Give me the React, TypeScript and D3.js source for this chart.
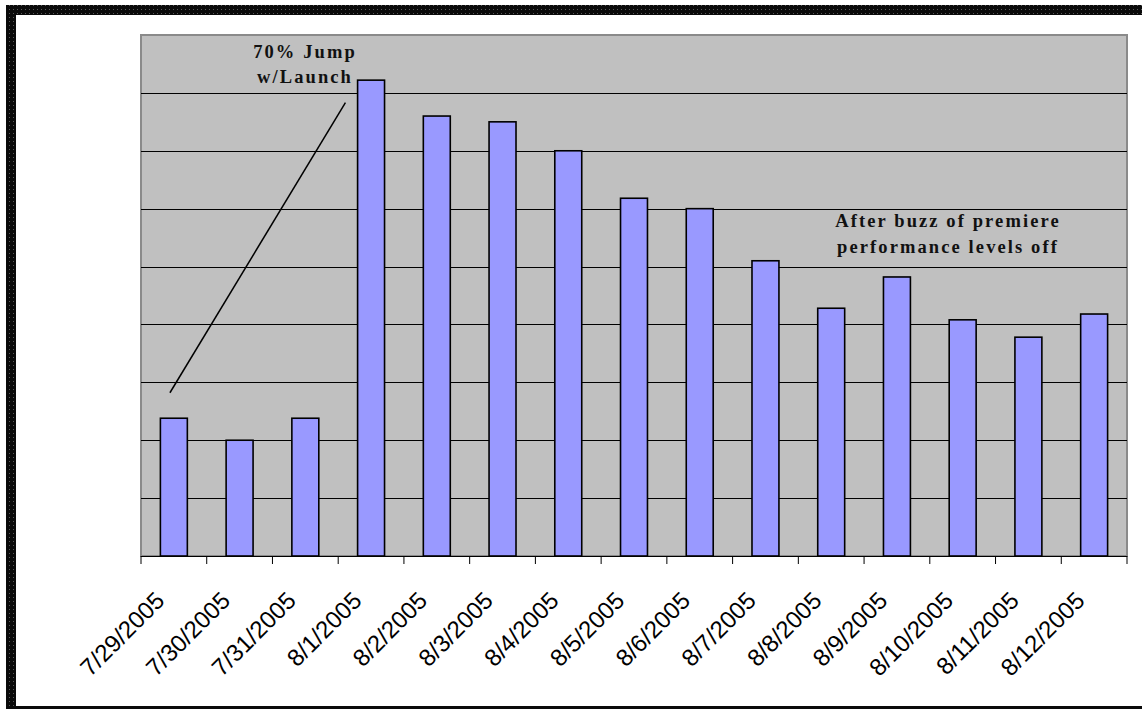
import React from "react";
import * as d3 from "d3";

const categories = [
  "7/29/2005", "7/30/2005", "7/31/2005", "8/1/2005", "8/2/2005", "8/3/2005",
  "8/4/2005", "8/5/2005", "8/6/2005", "8/7/2005", "8/8/2005", "8/9/2005",
  "8/10/2005", "8/11/2005", "8/12/2005",
];
const values = [2.38, 2.0, 2.38, 8.22, 7.6, 7.5, 7.0, 6.18, 6.0, 5.1, 4.28, 4.82, 4.08, 3.78, 4.18];
const yTicks = [0, 1, 2, 3, 4, 5, 6, 7, 8, 9];
const annotation1 = ["70% Jump", "w/Launch"];
const annotation2 = ["After buzz of premiere", "performance levels off"];

const W = 1142;
const H = 709;
const plot = { left: 141, right: 1127, top: 35, bottom: 556 };

export default function App() {
  const x = d3.scaleBand<string>().domain(categories).range([plot.left, plot.right]).padding(0);
  const y = d3.scaleLinear().domain([0, 9]).range([plot.bottom, plot.top]);
  const step = x.step();
  const barW = step * 0.41;
  const boundaries = d3.range(categories.length + 1).map((i) => plot.left + i * step);

  // annotation line endpoints in data terms
  const lineStart = { cat: 0, frac: -0.06, v: 2.82 };
  const lineEnd = { cat: 2, frac: 0.61, v: 7.83 };
  const lx1 = (x(categories[lineStart.cat]) as number) + step / 2 + lineStart.frac * step;
  const lx2 = (x(categories[lineEnd.cat]) as number) + step / 2 + lineEnd.frac * step;

  const serif = "'Liberation Serif', 'Times New Roman', serif";
  const sans = "'Liberation Sans', Arial, sans-serif";

  return (
    <svg
      width={W}
      height={H}
      style={{ position: "absolute", left: 0, top: 0, background: "#fff" }}
    >
      <defs>
        <pattern id="dots" width="4" height="4" patternUnits="userSpaceOnUse">
          <rect width="4" height="4" fill="#0a0a0a" />
          <rect x="1" y="1" width="1" height="1" fill="#5a5a5a" />
        </pattern>
      </defs>
      {/* outer border */}
      <rect x={6} y={5} width={W - 6} height={10} fill="url(#dots)" />
      <rect x={6} y={5} width={10} height={H - 5} fill="url(#dots)" />
      <rect x={6} y={706} width={W - 6} height={3} fill="url(#dots)" />

      {/* plot area */}
      <rect
        x={plot.left}
        y={plot.top}
        width={plot.right - plot.left}
        height={plot.bottom - plot.top}
        fill="#C0C0C0"
        stroke="#8a8a8a"
        strokeWidth={2}
      />
      {yTicks.slice(1, -1).map((t) => (
        <line
          key={t}
          x1={plot.left}
          x2={plot.right}
          y1={Math.round(y(t)) + 0.5}
          y2={Math.round(y(t)) + 0.5}
          stroke="#000"
          strokeWidth={1}
        />
      ))}

      {/* bars */}
      {categories.map((c, i) => {
        const cx = (x(c) as number) + step / 2;
        return (
          <rect
            key={c}
            x={cx - barW / 2}
            y={y(values[i])}
            width={barW}
            height={plot.bottom - y(values[i])}
            fill="#9999FF"
            stroke="#000"
            strokeWidth={1.6}
          />
        );
      })}

      {/* x axis */}
      <line x1={plot.left} x2={plot.right} y1={plot.bottom + 0.5} y2={plot.bottom + 0.5} stroke="#000" strokeWidth={1.2} />
      {boundaries.map((b, i) => (
        <line key={i} x1={b} x2={b} y1={plot.bottom} y2={plot.bottom + 8} stroke="#000" strokeWidth={1} />
      ))}
      {categories.map((c) => {
        const cx = (x(c) as number) + step / 2;
        return (
          <text
            key={c}
            transform={`translate(${cx - 8},${plot.bottom + 46}) rotate(-45)`}
            textAnchor="end"
            fontFamily={sans}
            fontSize={24}
            fill="#000"
          >
            {c}
          </text>
        );
      })}

      {/* annotations */}
      <line x1={lx1} y1={y(lineStart.v)} x2={lx2} y2={y(lineEnd.v)} stroke="#000" strokeWidth={1.5} />
      {annotation1.map((t, i) => (
        <text
          key={t}
          x={305}
          y={58 + i * 25}
          textAnchor="middle"
          fontFamily={serif}
          fontWeight="bold"
          fontSize={18.5}
          letterSpacing={2.1}
          fill="#111"
        >
          {t}
        </text>
      ))}
      {annotation2.map((t, i) => (
        <text
          key={t}
          x={948}
          y={227 + i * 26}
          textAnchor="middle"
          fontFamily={serif}
          fontWeight="bold"
          fontSize={18.5}
          letterSpacing={2.1}
          fill="#111"
        >
          {t}
        </text>
      ))}
    </svg>
  );
}
